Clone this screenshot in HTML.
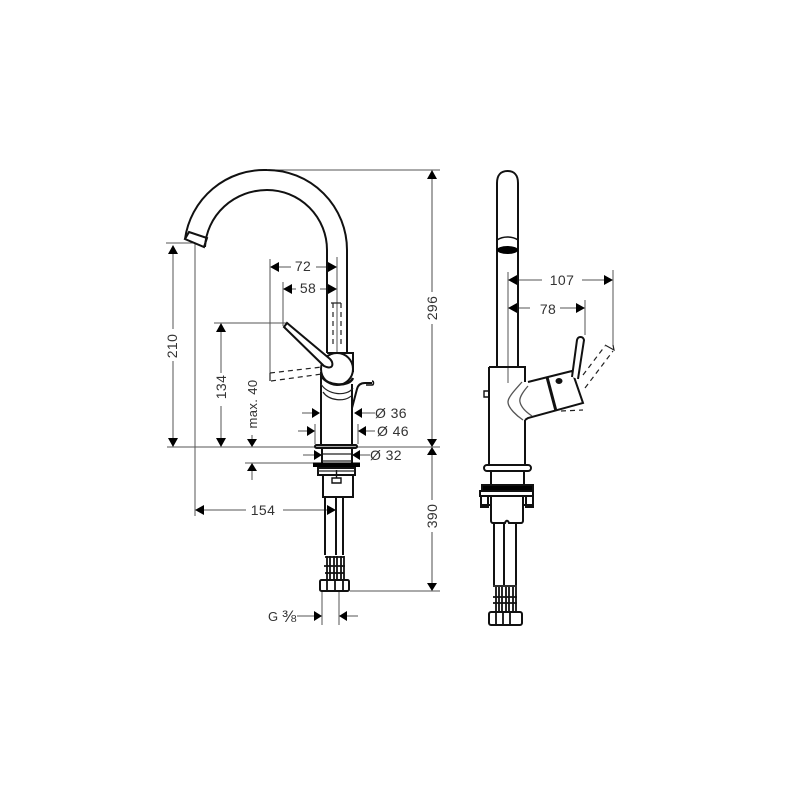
<!DOCTYPE html>
<html><head><meta charset="utf-8"><style>
html,body{margin:0;padding:0;background:#fff;width:800px;height:800px;overflow:hidden}
svg{display:block}
text{font-family:"Liberation Sans",sans-serif;font-size:13px;fill:#333;letter-spacing:.4px}
.k{fill:none;stroke:#111;stroke-width:2}
.m{fill:none;stroke:#222;stroke-width:1.2}
.t{fill:none;stroke:#555;stroke-width:1}
.g{fill:none;stroke:#888;stroke-width:1.500}
.d{fill:none;stroke:#222;stroke-width:1.2;stroke-dasharray:5 4}
.a{fill:#000;stroke:none}
</style></head><body>
<svg width="800" height="800" viewBox="0 0 800 800" xmlns="http://www.w3.org/2000/svg">
<g class="t">
<!-- extension lines -->
<path d="M267 170H440M167 447H440M350 591H440M166 243H195M195 243V516M214 323H287M245 463H315"/>
<path d="M270 259V380M283 282V326M337 257V352M322 592V625M339 592V625M613 270V345M585 300V335M508 272V383"/>
<path d="M315 424V444M358 424V444"/>
<!-- dimension lines -->
<path d="M173 250V329M173 361V442M221 328V373M221 406V442M252 442V435M252 468V480"/>
<path d="M200 510H246M283 510H331M276 267H291M316 267H332M288 289H296M320 289H332M302 413H315M360 413H375M298 431H310M363 431H375M303 455H317M357 455H370M297 616H317M344 616H358M513 280H542M582 280H608M513 308H530M560 308H580"/>
</g>
<path class="g" d="M432 175V292M432 324V442M432 452V500M432 532V586"/>
<g class="a">
<!-- arrows -->
<path d="M173 245l-5 9h10zM173 447l-5-9h10zM221 323l-5 9h10zM221 447l-5-9h10zM252 447l-5-8h10zM252 463l-5 8h10zM432 170l-5 9h10zM432 447l-5-8h10zM432 447l-5 8h10zM432 591l-5-8h10z"/>
<path d="M195 510l9-5v10zM336 510l-9-5v10zM270 267l9-5v10zM337 267l-9-5v10zM283 289l9-5v10zM337 289l-9-5v10zM320 413l-8-5v10zM354 413l8-5v10zM315 431l-8-5v10zM358 431l8-5v10zM322 455l-8-5v10zM352 455l8-5v10zM322 616l-8-5v10zM339 616l8-5v10zM508 280l9-5v10zM613 280l-9-5v10zM508 308l9-5v10zM585 308l-9-5v10z"/>
</g>
<!-- LEFT VIEW -->
<g class="k">
<path d="M185 239A80 80 0 0 1 267 170A80 80 0 0 1 347 250V353"/>
<path d="M205 247A62 60 0 0 1 267 190A60 60 0 0 1 327 250V353"/>
<path d="M185 239L189 232L207 238L204 247Z"/>
<path d="M327 353H353V372"/>
<circle cx="337" cy="369" r="16"/>
<path d="M284 327L287 323L330 359C333 362 333 366 331 367C329 368 326 367 324 366Z" fill="#fff"/>
<path d="M321 372V444M352 384V444"/>
<path d="M352 408L357 389C358 385 361 383 365 383H372"/>
<path d="M372 381C374 381 374 385 372 385H366" stroke-width="1.500"/>
<path d="M321 375C325 386 349 388 353 378" stroke-width="2.400"/>
<rect x="315" y="445" width="42" height="3" rx="1.500" stroke-width="2"/>
<path d="M322 448V463M352 448V463"/>
<rect x="313" y="462.500" width="47" height="4.500" fill="#000" stroke="none"/>
<path d="M318 468H355V475H318ZM323 475V497H353V475M325 497V555M336 497V555M343 497V555" />
<rect x="320" y="580" width="29" height="11" rx="1.500"/>
<path d="M325 557H344M324 566H345M325 573H344M327 556V580M330 556V580M334 556V580M337 556V580M341 556V580M344 556V580M327 580V591M335 580V591M343 580V591" stroke-width="1.800"/>
<path d="M332 478H341V483H332Z" stroke-width="1.400"/>
<path d="M336.500 470V478" stroke-width="1.400"/>
</g>
<g class="m">
<path d="M321 384C327 395 347 397 353 388M323 392C329 401 345 402 351 396"/>
<path d="M323 454H351M322 461H352M318 471H355"/>
</g>
<g class="d">
<path d="M333 303V345M341 303V345M270 373L322 367M271 381L322 374"/>
</g>
<path class="m" d="M331 303H341M270 373V381"/>
<!-- RIGHT VIEW -->
<g class="k">
<path d="M497 367V183C497 175 501 171 507.500 171C514 171 518 175 518 183V367"/>
<path d="M497 240C503 236 512 236 518 240" stroke-width="1.500"/>
<ellipse cx="507.500" cy="250" rx="10.500" ry="4" fill="#000" stroke="none"/>
<path d="M489 367H525V382M489 367V464M525 420V464"/>
<path d="M484 391H489V397H484Z" stroke-width="1.400"/>
<path d="M528 382L572 371L583 403L528 418L525 420"/>
<path d="M547 377L556 411" stroke-width="3"/>
<path d="M572 377L577 340C578 336 583 336 584 340L578 379" fill="#fff"/>
<rect x="484" y="465" width="47" height="6" rx="3"/>
<path d="M491 472V485M524 472V485"/>
<rect x="482" y="485" width="51" height="6" fill="#000"/>
<path d="M480 491H533V496H480ZM481 496V507H488V496M526 496V507H533V496M480 505H490M524 505H534"/>
<path d="M491 497V521C491 522 492 523 493 523H505C506 520 508 520 509 523H521C522 523 523 522 523 521V497"/>
<path d="M494 523V585M504 523V585M516 523V585"/>
<path d="M493 586H517M493 597H517M493 603H517M496 587V612M499 587V612M502 587V612M506 587V612M509 587V612M513 587V612M516 587V612" stroke-width="1.800"/>
<rect x="489" y="612" width="33" height="13" rx="2"/>
<path d="M496 612V625M503 612V625M510 612V625" stroke-width="1.800"/>
</g>
<ellipse cx="559" cy="381" rx="3.500" ry="3" fill="#111"/>
<path d="M522 382C515 390 508 397 508 402C508 408 517 416 523 420M528 386C522 393 519 398 520 402C521 407 526 412 532 416" fill="none" stroke="#555" stroke-width="1.300"/>
<g class="d"><path d="M583 375L605 346M585 388L613 351"/><path d="M561 411L583 410" /></g>
<path class="m" d="M605 345L614 350L613 345"/>
<!-- LABELS -->
<text x="303" y="271" text-anchor="middle" style="font-size:14px">72</text>
<text x="308" y="293" text-anchor="middle" style="font-size:14px">58</text>
<text x="263" y="515" text-anchor="middle" style="font-size:14px">154</text>
<text x="375" y="418" style="font-size:14px">Ø 36</text>
<text x="377" y="436" style="font-size:14px">Ø 46</text>
<text x="370" y="460" style="font-size:14px">Ø 32</text>
<text x="268" y="621">G</text>
<text x="282" y="622" style="font-size:17px">⅜</text>
<text x="562" y="285" text-anchor="middle" style="font-size:14px">107</text>
<text x="548" y="314" text-anchor="middle" style="font-size:14px">78</text>
<text transform="translate(177,346) rotate(-90)" text-anchor="middle" style="font-size:14px">210</text>
<text transform="translate(226,387) rotate(-90)" text-anchor="middle" style="font-size:14px">134</text>
<text transform="translate(257,404) rotate(-90)" text-anchor="middle">max. 40</text>
<text transform="translate(437,308) rotate(-90)" text-anchor="middle" style="font-size:14px">296</text>
<text transform="translate(437,516) rotate(-90)" text-anchor="middle" style="font-size:14px">390</text>
</svg>
</body></html>
